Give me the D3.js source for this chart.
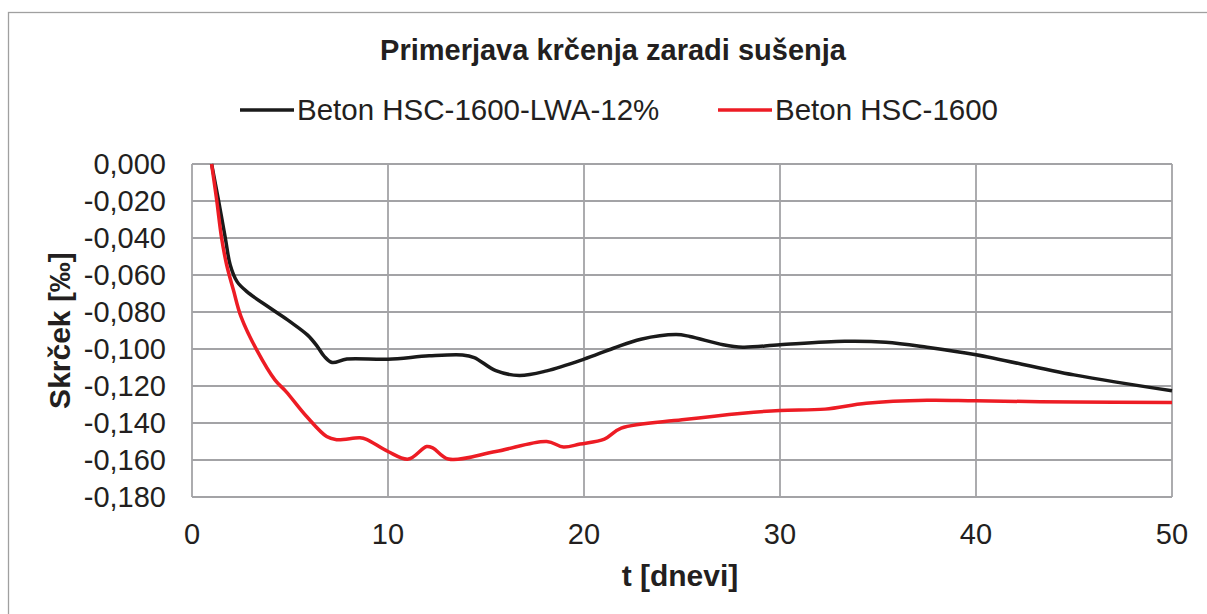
<!DOCTYPE html>
<meta charset="utf-8">
<style>
  body { margin: 0; background: #fff; }
  text { font-family: Arial, "Liberation Sans", sans-serif; fill: #231f20; }
</style>
<body>
</body>

<script src="https://d3js.org/d3.v7.min.js"></script>
<script>

// t [dnevi] and shrinkage [‰]
var tBlack = [1, 1.35, 1.7, 1.95, 2.3, 2.8, 4, 5, 5.9, 6.4, 6.75, 7.15, 7.9, 10, 12.1, 13.8, 14.4, 15.5, 16.7, 18.1, 20, 21.5, 22.9, 24.7, 25.4, 27.1, 28.1, 30, 33.3, 35.4, 37.5, 40, 45, 50];
var vBlack = [0, -0.0195, -0.040, -0.0546, -0.0636, -0.069, -0.078, -0.0852, -0.0925, -0.0987, -0.104, -0.1073, -0.1054, -0.1055, -0.1037, -0.1032, -0.1046, -0.1117, -0.1143, -0.1118, -0.1055, -0.0996, -0.0947, -0.0922, -0.0932, -0.0977, -0.099, -0.0977, -0.0958, -0.0963, -0.099, -0.1031, -0.114, -0.1226];

var tRed = [1, 1.26, 1.51, 1.77, 2.11, 2.5, 3.3, 4.23, 4.8, 5.85, 6.87, 7.38, 8.57, 8.9, 10, 11.04, 11.97, 12.3, 13.08, 15.5, 18.1, 18.95, 19.8, 21.04, 21.9, 25, 28.1, 30, 32.3, 34.4, 37.5, 40, 45, 50];
var vRed = [0, -0.0195, -0.040, -0.0546, -0.068, -0.0825, -0.1005, -0.1167, -0.123, -0.1365, -0.1473, -0.149, -0.148, -0.1488, -0.1554, -0.1595, -0.1527, -0.1536, -0.1595, -0.1554, -0.150, -0.153, -0.1514, -0.1487, -0.1428, -0.1383, -0.1347, -0.1332, -0.1325, -0.1293, -0.1277, -0.128, -0.1287, -0.1289];

var seriesNames = ["Beton HSC-1600-LWA-12%", "Beton HSC-1600"];
var seriesColors = ["#1a1a1a", "#ed1c24"];
var xTicks = [0, 10, 20, 30, 40, 50];
var yTicks = [0, -0.02, -0.04, -0.06, -0.08, -0.10, -0.12, -0.14, -0.16, -0.18];

var W = 1207, H = 614;
var plot = {left: 192, top: 164, right: 1172, bottom: 497};

var svg = d3.select("body").append("svg")
  .attr("width", W)
  .attr("height", H);

// outer chart frame
svg.append("rect")
  .attr("x", 8.5)
  .attr("y", 12.5)
  .attr("width", 1205)
  .attr("height", 620)
  .attr("fill", "none")
  .attr("stroke", "#a0a0a0")
  .attr("stroke-width", 1.3);

var x = d3.scaleLinear().domain([0, 50]).range([plot.left, plot.right]);
var y = d3.scaleLinear().domain([-0.18, 0]).range([plot.bottom, plot.top]);

// grid
svg.append("g")
  .selectAll("line")
  .data(yTicks)
  .enter()
  .append("line")
  .attr("x1", plot.left)
  .attr("x2", plot.right)
  .attr("y1", function(d){ return y(d); })
  .attr("y2", function(d){ return y(d); })
  .attr("stroke", "#a3a3a6")
  .attr("stroke-width", 1.8);

svg.append("g")
  .selectAll("line")
  .data(xTicks)
  .enter()
  .append("line")
  .attr("x1", function(d){ return x(d); })
  .attr("x2", function(d){ return x(d); })
  .attr("y1", plot.top)
  .attr("y2", plot.bottom)
  .attr("stroke", "#a3a3a6")
  .attr("stroke-width", 1.8);

// tick labels
var fmt = function(d) { return d3.format(".3f")(d).replace("−", "-").replace(".", ","); };

svg.append("g")
  .selectAll("text")
  .data(yTicks)
  .enter()
  .append("text")
  .attr("x", 166)
  .attr("y", function(d){ return y(d); })
  .attr("dy", "0.36em")
  .attr("text-anchor", "end")
  .style("font-size", "29px")
  .text(function(d){ return d === 0 ? "0,000" : fmt(d); });

svg.append("g")
  .selectAll("text")
  .data(xTicks)
  .enter()
  .append("text")
  .attr("x", function(d){ return x(d); })
  .attr("y", 544)
  .attr("text-anchor", "middle")
  .style("font-size", "29px")
  .text(function(d){ return d; });

// axis titles
svg.append("text")
  .attr("x", 680)
  .attr("y", 586)
  .attr("text-anchor", "middle")
  .style("font-size", "30px")
  .style("font-weight", "bold")
  .text("t [dnevi]");

svg.append("text")
  .attr("transform", "translate(70," + ((plot.top + plot.bottom) / 2) + ") rotate(-90)")
  .attr("text-anchor", "middle")
  .style("font-size", "30px")
  .style("font-weight", "bold")
  .text("Skrček [‰]");

// title
svg.append("text")
  .attr("x", 613)
  .attr("y", 60)
  .attr("text-anchor", "middle")
  .style("font-size", "29px")
  .style("font-weight", "bold")
  .text("Primerjava krčenja zaradi sušenja");

// legend
var legendX = [240, 718];
seriesNames.forEach(function(name, i) {
  svg.append("line")
    .attr("x1", legendX[i])
    .attr("x2", legendX[i] + 54)
    .attr("y1", 110)
    .attr("y2", 110)
    .attr("stroke", seriesColors[i])
    .attr("stroke-width", 3.5);
  svg.append("text")
    .attr("x", legendX[i] + 57)
    .attr("y", 120)
    .style("font-size", "29.5px")
    .text(name);
});

// lines
var line = d3.line()
  .x(function(d){ return x(d[0]); })
  .y(function(d){ return y(d[1]); })
  .curve(d3.curveCatmullRom.alpha(0.5));

var series = [d3.zip(tBlack, vBlack), d3.zip(tRed, vRed)];

series.forEach(function(pts, i) {
  svg.append("path")
    .attr("d", line(pts))
    .attr("fill", "none")
    .attr("stroke", seriesColors[i])
    .attr("stroke-width", 3.5)
    .attr("stroke-linejoin", "round");
});

</script>
